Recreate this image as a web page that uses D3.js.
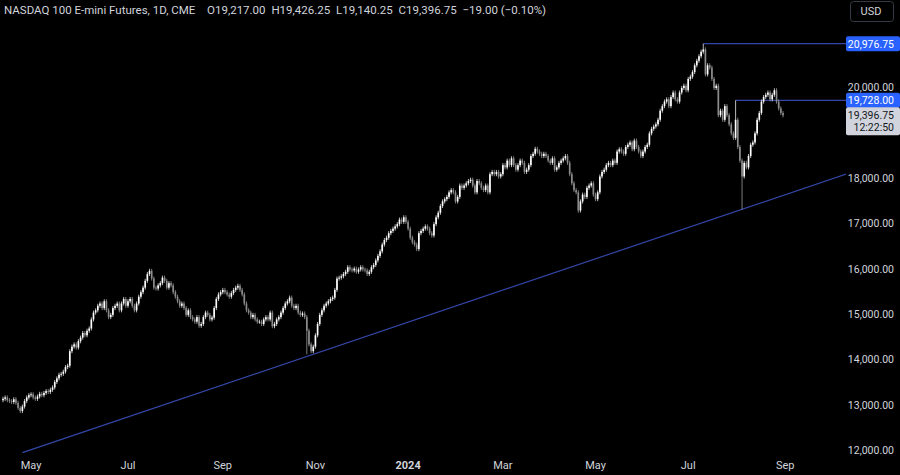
<!DOCTYPE html>
<html>
<head>
<script src="https://cdnjs.cloudflare.com/ajax/libs/d3/7.8.5/d3.min.js"></script>
<style>
  html, body { margin: 0; background: #000; }
  svg { display: block; font-family: Roboto, "Liberation Sans", sans-serif; }
</style>
</head>
<body>
<svg width="900" height="475"></svg>
<script>
// daily closes by month, Apr 12 2023 .. Aug 30 2024
var closes2023 = [
  [13150,13180,13120,13100,13080,13140,13060,12950,12880,12980,13100,13180,13230],
  [13250,13180,13150,13200,13260,13230,13280,13320,13300,13350,13400,13520,13600,13680,13700,13750,13850,13880,14200,14300,14350,14280,14420],
  [14500,14600,14550,14650,14700,14900,15050,15100,15200,15250,15150,15300,15100,14950,15000,15150,15200,15250,15100,15250,15350,15200],
  [15300,15350,15200,15100,15250,15400,15500,15600,15750,15900,15970,15800,15600,15580,15650,15700,15820,15750,15600,15700,15650],
  [15500,15400,15300,15200,15250,15150,15000,15100,14950,14900,14850,14950,14760,14800,14950,15050,15000,14900,14940,15150,15350,15450,15500],
  [15550,15500,15450,15400,15480,15550,15600,15640,15550,15450,15250,15100,15050,14950,15000,14900,14850,14850,14800,14900,14950],
  [14900,15050,14750,14800,14900,14950,15050,15150,15250,15300,15380,15200,15150,15200,15050,15000,15030,14950,14650,14350,14200,14300],
  [14550,14800,15000,15100,15200,15250,15300,15350,15380,15550,15800,15820,15850,15900,15950,16050,16000,15980,16020,15950,16000,16050],
  [16000,15980,15900,15950,16050,16100,16200,16300,16400,16550,16650,16700,16800,16850,16900,16950,17000,17100,17050,17150,17050]
];
var closes2024 = [
  [16900,16700,16600,16550,16450,16800,16850,16900,16950,16900,16800,16750,17000,17150,17250,17400,17500,17550,17600,17700,17750,17700,17500],
  [17600,17850,17800,17850,17900,17950,17980,17850,17700,17950,17900,17800,17750,17850,17700,18100,18150,18100,18150,18050,18100],
  [18300,18250,18400,18300,18450,18300,18200,18300,18400,18350,18150,18200,18300,18500,18550,18660,18600,18550,18500,18550,18500],
  [18400,18350,18450,18200,18250,18350,18400,18450,18500,18350,18100,17900,17750,17700,17300,17500,17650,17600,17800,17850,17900,17650],
  [17550,17700,18050,18150,18200,18300,18350,18300,18400,18350,18600,18650,18600,18550,18700,18750,18800,18650,18840,18700,18600,18500,18600],
  [18700,18750,19000,19100,19150,19200,19300,19500,19600,19700,19750,19600,19800,19900,19750,19700,19900,20000,20050,19950],
  [20200,20250,20350,20500,20600,20700,20800,20850,20300,20500,20450,20200,20000,20050,19400,19500,19300,19600,19400,19200,19000,18900,19300],
  [18700,18400,18050,18350,18250,18500,18750,18800,19000,19300,19450,19700,19800,19850,19900,19750,19850,19950,19700,19550,19450,19396.75]
];
var firstOpen = 13120;
var wick = 45;
// notable extremes: [trading-day date, high or low]
var highOverrides = [["2024-07-10", 20976.75], ["2024-07-31", 19728]];
var lowOverrides = [["2024-08-05", 17320], ["2023-10-26", 14130], ["2024-04-19", 17250]];
var levels = [20976.75, 19728];
var levelStart = ["2024-07-10", "2024-07-31"];
var trend = [["2023-04-25", 11965], ["2024-10-14", 18130]];
var yTicks = [12000, 13000, 14000, 15000, 16000, 17000, 18000, 20000];
var xLabels = [["2023-05", "May"], ["2023-07", "Jul"], ["2023-09", "Sep"], ["2023-11", "Nov"],
  ["2024-01", "2024"], ["2024-03", "Mar"], ["2024-05", "May"], ["2024-07", "Jul"], ["2024-09", "Sep"]];

var closes = closes2023.concat(closes2024).flat();

// weekday calendar
var fmt = d3.utcFormat("%Y-%m-%d");
var days = [];
var d = new Date(Date.UTC(2023, 3, 12));
while (days.length < closes.length + 80) {
  var wd = d.getUTCDay();
  if (wd !== 0 && wd !== 6) days.push(fmt(d));
  d = new Date(d.getTime() + 86400000);
}
var idxOf = function(s) { return days.indexOf(s); };

var bars = closes.map(function(c, i) {
  var o = i === 0 ? firstOpen : closes[i - 1];
  return { date: days[i], o: o, c: c, h: Math.max(o, c) + wick, l: Math.min(o, c) - wick };
});
highOverrides.forEach(function(p) { bars[idxOf(p[0])].h = p[1]; });
lowOverrides.forEach(function(p) { bars[idxOf(p[0])].l = p[1]; });

var svg = d3.select("svg");
var x = d3.scaleLinear().domain([0, closes.length - 1]).range([3, 783]);
var y = d3.scaleLinear().domain([12000, 20000]).range([451, 88]);
var step = x(1) - x(0);

svg.append("defs").append("clipPath").attr("id", "plot")
  .append("rect").attr("x", 0).attr("y", 30).attr("width", 846).attr("height", 425);

var plot = svg.append("g").attr("clip-path", "url(#plot)");

var lineCol = "#3446a8";
plot.append("line")
  .attr("x1", x(idxOf(trend[0][0]))).attr("y1", y(trend[0][1]))
  .attr("x2", x(idxOf(trend[1][0]))).attr("y2", y(trend[1][1]))
  .attr("stroke", lineCol).attr("stroke-width", 1.2);

levels.forEach(function(v, i) {
  plot.append("line")
    .attr("x1", x(idxOf(levelStart[i]))).attr("x2", 846)
    .attr("y1", y(v)).attr("y2", y(v))
    .attr("stroke", lineCol).attr("stroke-width", 1.2);
});

var g = plot.selectAll(".bar").data(bars).enter().append("g");
g.append("line")
  .attr("x1", function(b, i) { return x(i); }).attr("x2", function(b, i) { return x(i); })
  .attr("y1", function(b) { return y(b.h); }).attr("y2", function(b) { return y(b.l); })
  .attr("stroke", function(b) { return b.c >= b.o ? "#e8e8e8" : "#9a9a9a"; })
  .attr("stroke-width", 0.8);
g.append("rect")
  .attr("x", function(b, i) { return x(i) - step * 0.38; })
  .attr("width", step * 0.76)
  .attr("y", function(b) { return y(Math.max(b.o, b.c)); })
  .attr("height", function(b) { return Math.max(0.8, Math.abs(y(b.o) - y(b.c))); })
  .attr("fill", function(b) { return b.c >= b.o ? "#ffffff" : "#8c8c8c"; });

// right axis
var fmtN = d3.format(",.2f");
var ax = svg.append("g").attr("font-size", 10.5);
ax.selectAll("text.tick").data(yTicks).enter().append("text")
  .attr("x", 894).attr("y", function(v) { return y(v) + 3; })
  .attr("text-anchor", "end").attr("fill", "#d1d4dc")
  .text(function(v) { return fmtN(v); });

levels.forEach(function(v) {
  ax.append("rect").attr("x", 846).attr("y", y(v) - 7.5).attr("width", 54).attr("height", 15)
    .attr("rx", 2).attr("fill", "#2962ff");
  ax.append("text").attr("x", 894).attr("y", y(v) + 4).attr("text-anchor", "end")
    .attr("fill", "#fff").text(fmtN(v));
});

var last = closes[closes.length - 1];
ax.append("rect").attr("x", 846).attr("y", y(last) - 8).attr("width", 54).attr("height", 28)
  .attr("rx", 2).attr("fill", "#d1d4dc");
ax.append("text").attr("x", 894).attr("y", y(last) + 3.5).attr("text-anchor", "end")
  .attr("fill", "#131722").text(fmtN(last));
ax.append("text").attr("x", 894).attr("y", y(last) + 16).attr("text-anchor", "end")
  .attr("fill", "#131722").text("12:22:50");

// USD box
svg.append("rect").attr("x", 850.5).attr("y", 1.5).attr("width", 43).attr("height", 20)
  .attr("rx", 3).attr("fill", "none").attr("stroke", "#363a45");
svg.append("text").attr("x", 871).attr("y", 15).attr("text-anchor", "middle")
  .attr("fill", "#d1d4dc").attr("font-size", 11).text("USD");

// bottom labels
xLabels.forEach(function(p) {
  var i = days.findIndex(function(s) { return s.slice(0, 7) === p[0]; });
  svg.append("text").attr("x", x(i)).attr("y", 469).attr("text-anchor", "middle")
    .attr("fill", "#d1d4dc").attr("font-size", 11)
    .attr("font-weight", p[1] === "2024" ? "bold" : "normal").text(p[1]);
});

// header
svg.append("text").attr("x", 4).attr("y", 14).attr("fill", "#d1d4dc").attr("font-size", 11.5)
  .text("NASDAQ 100 E-mini Futures, 1D, CME\u2003O19,217.00\u2002H19,426.25\u2002L19,140.25\u2002C19,396.75\u2002\u221219.00 (\u22120.10%)");
</script>
</body>
</html>
